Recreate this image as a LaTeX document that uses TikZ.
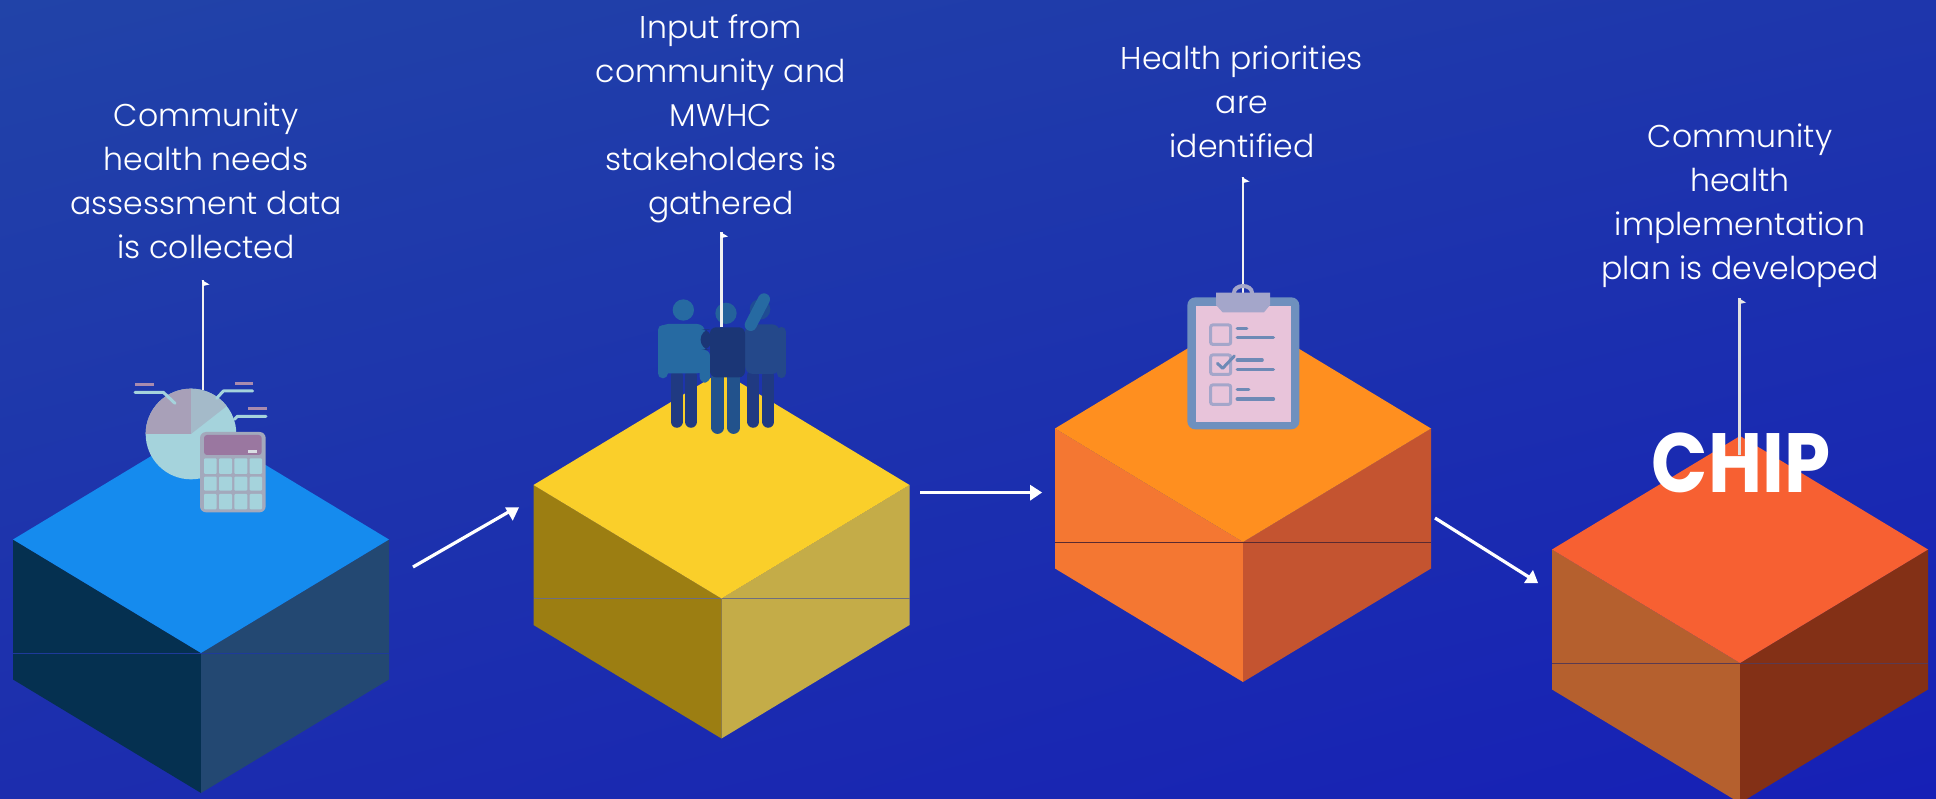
\documentclass[tikz,border=0pt]{standalone}
\usepackage{fontspec}
\setmainfont{Poppins}[UprightFont=*-Light]
\newfontfamily\chipfont{Poppins}[UprightFont=*-Bold,FakeStretch=0.88]
\usetikzlibrary{calc,shadings}
\definecolor{bgTL}{HTML}{2143A8}
\definecolor{bgTR}{HTML}{1E36AC}
\definecolor{bgBL}{HTML}{1C2DAE}
\definecolor{bgBR}{HTML}{1620B6}
\definecolor{iTeal}{HTML}{A5D3DC}
\definecolor{iMauve}{HTML}{A8A0B8}
\definecolor{iGrey}{HTML}{A3A9BC}
\definecolor{iHead}{HTML}{9A77A0}
\tikzset{
  lab/.style={text=white,align=center,inner sep=0pt,font=\fontsize{31.5}{44}\selectfont},
  flow/.style={draw=white,line width=3.2pt},
  tip/.style={fill=white},
  up/.style={draw=white!94!black,line width=2.4pt},
  zoomA/.style={x=0.33333pt,y=-0.33333pt,shift={(#1)}},
}
% #1 name, #2 centre x, #3 apex y, #4 top, #5 left, #6 right, #7 seam
\newcommand{\isobox}[7]{%
  \coordinate (#1apex) at (#2,#3);
  \coordinate (#1l) at (#2-188,#3+113.5);
  \coordinate (#1r) at (#2+188,#3+113.5);
  \coordinate (#1f) at (#2,#3+227);
  \coordinate (#1bl) at (#2-188,#3+253.5);
  \coordinate (#1br) at (#2+188,#3+253.5);
  \coordinate (#1b) at (#2,#3+367);
  \fill[#5] (#1l)--(#1f)--(#1b)--(#1bl)--cycle;
  \fill[#6] (#1r)--(#1f)--(#1b)--(#1br)--cycle;
  \draw[#7,line width=0.6pt] (#1f-|#1l)--(#1f-|#1r);
  \fill[#4] (#1apex)--(#1r)--(#1f)--(#1l)--cycle;
}
\definecolor{bxa}{HTML}{158BEE}\definecolor{bxb}{HTML}{053050}\definecolor{bxc}{HTML}{234872}\definecolor{bxd}{HTML}{1E3A9A}
\definecolor{bya}{HTML}{FACF2A}\definecolor{byb}{HTML}{9C7E12}\definecolor{byc}{HTML}{C4AC48}\definecolor{byd}{HTML}{6E6E80}
\definecolor{bza}{HTML}{FF8F1F}\definecolor{bzb}{HTML}{F47732}\definecolor{bzc}{HTML}{C45430}\definecolor{bzd}{HTML}{5A2A30}
\definecolor{bwa}{HTML}{F76032}\definecolor{bwb}{HTML}{B5602E}\definecolor{bwc}{HTML}{833016}\definecolor{bwd}{HTML}{5A3A50}
\begin{document}
\begin{tikzpicture}[x=1pt,y=-1pt]
\useasboundingbox (0,0) rectangle (1936,799);
\shade[upper left=bgTL,upper right=bgTR,lower left=bgBL,lower right=bgBR] (0,0) rectangle (1936,799);
\begin{scope}
\clip (0,0) rectangle (1936,799);
\isobox{a}{201}{426}{bxa}{bxb}{bxc}{bxd}
\isobox{b}{721.5}{371.5}{bya}{byb}{byc}{byd}
\isobox{c}{1243}{315}{bza}{bzb}{bzc}{bzd}
\isobox{d}{1740}{436}{bwa}{bwb}{bwc}{bwd}
\end{scope}

% labels
\node[lab] (ta) at (206,181) {Community\\health needs\\assessment data\\is collected};
\node[lab] (tb) at (721,118.7) {Input from\\community and\\MWHC\\stakeholders is\\gathered};
\node[lab] (tc) at (1242,102) {Health priorities\\are\\identified};
\node[lab] (td) at (1740,205.7) {Community\\health\\implementation\\plan is developed};

% vertical pointers
\coordinate (pa1) at (203,390); \coordinate (pa2) at (203,280);
\coordinate (pc1) at (1243,295); \coordinate (pc2) at (1243,177);
\draw[up] (pa1)--(pa2);
\fill[white] (203-1.2,280)--(209.5,284.5)--(203,286)--cycle;
\draw[up] (pc1)--(pc2);
\fill[white] (1243-1.2,177)--(1249.5,181.5)--(1243,183)--cycle;

% pie + calculator
\begin{scope}[zoomA={100pt,-340pt}]
  \fill[iTeal] (273,282) circle[radius=136];
  \fill[iMauve] (273,282)--(137,282) arc[start angle=180,end angle=270,radius=136]--cycle;
  \fill[iGrey!60!iTeal] (273,282)--(273,146) arc[start angle=270,end angle=322,radius=136]--cycle;
  \draw[iTeal,line width=3pt,line cap=round,line join=round] (105,157)--(190,157)--(225,190);
  \draw[iTeal,line width=3pt,line cap=round,line join=round] (458,153)--(370,153)--(350,175);
  \draw[iTeal,line width=3pt,line cap=round,line join=round] (498,229)--(412,229)--(403,238);
  \foreach \xa/\xb/\yy in {105/162/135,405/460/130,445/500/207}
    \draw[iHead!85!white,line width=3pt] (\xa,\yy)--(\xb,\yy);
  \fill[iGrey,rounded corners=6pt] (300,276) rectangle (497,517);
  \fill[iHead,rounded corners=3pt] (312,285) rectangle (485,345);
  \fill[iGrey!40!white] (445,330) rectangle (472,338);
  \foreach \xa/\xb in {312/350,357/396,403/442,449/486}
    \foreach \ya/\yb in {355/402,410/452,462/508}
      \fill[iTeal,rounded corners=1pt] (\xa,\ya) rectangle (\xb,\yb);
\end{scope}

% people
\begin{scope}[zoomA={630pt,-270pt},line cap=round]
  \definecolor{pa}{HTML}{266AA2}\definecolor{pb}{HTML}{203A82}
  \definecolor{pc}{HTML}{1B3676}\definecolor{pd}{HTML}{22528C}
  \definecolor{pe}{HTML}{24488A}\definecolor{pf}{HTML}{1F4C94}
  % right person
  \fill[pf] (390,118) circle[radius=31];
  \draw[pb,line width=12.2pt] (370,318)--(370,455);
  \draw[pb,line width=12.2pt] (415,318)--(415,455);
  \fill[pe,rounded corners=8pt] (345,163) rectangle (450,312);
  \draw[pe,line width=9.5pt] (454,185)--(454,310);
  % left person
  \fill[pa] (160,120) circle[radius=32];
  \draw[pb,line width=12.2pt] (140,318)--(140,455);
  \draw[pb,line width=12.2pt] (183,318)--(183,455);
  \fill[pa,rounded corners=8pt] (90,162) rectangle (225,310);
  \draw[pa,line width=10pt] (98,180)--(98,310);
  \fill[pa,rounded corners=6pt] (209,240) rectangle (240,338);
  % centre person
  \draw[pd,line width=12.5pt] (263,325)--(263,473);
  \draw[pd,line width=12.5pt] (311,325)--(311,473);
  \fill[pc,rounded corners=10pt] (212,178) rectangle (245,240);
  \fill[pc,rounded corners=6pt] (240,172) rectangle (345,322);
  \draw[pa,line width=12pt] (362,165)--(402,88);
  \fill[pa!85!pc] (288,130) circle[radius=32];
\end{scope}
\coordinate (pb1) at (721.5,327); \coordinate (pb2) at (721.5,232);
\draw[up] (pb1)--(pb2);
\fill[white] (721.5-1.2,232)--(728,236.5)--(721.5,238)--cycle;

% clipboard
\begin{scope}[zoomA={1170pt,-270pt},line cap=round]
  \definecolor{ca}{HTML}{6F90BE}\definecolor{cb}{HTML}{E8C4DA}
  \definecolor{cc}{HTML}{A4A6CA}\definecolor{cd}{HTML}{6E8AB6}
  \fill[ca,rounded corners=8pt] (52,82) rectangle (388,478);
  \fill[cb] (77,107) rectangle (362,455);
  \draw[cc,line width=4pt] (192,68) arc[start angle=180,end angle=360,x radius=27,y radius=20];
  \fill[cc] (138,68)--(300,68)--(300,105)--(282,127)--(158,127)--(138,105)--cycle;
  \foreach \yy in {165,255,345}
    \draw[cc,line width=3pt,rounded corners=2pt] (122,\yy) rectangle (182,\yy+58);
  \draw[cd,line width=3pt,line join=round] (142,280)--(158,295)--(193,258);
  \foreach \xa/\xb/\yy in {202/230/175,202/310/203,202/276/270,202/310/298,202/236/358,202/310/387}
    \draw[cd,line width=3.6pt] (\xa,\yy)--(\xb,\yy);
\end{scope}

% CHIP
\node[text=white,inner sep=0pt,font=\chipfont\fontsize{84}{84}\selectfont] (chip) at (1741,463) {CHIP};
\coordinate (pd1) at (1739.5,455); \coordinate (pd2) at (1739.5,298);
\draw[up,draw=white!88!black] (pd1)--(pd2);
\fill[white!90!black] (1739.5-1.2,298)--(1746,302.5)--(1739.5,304)--cycle;

% flow arrows
\coordinate (fa1) at (413,567); \coordinate (fa2) at (512,510);
\draw[flow] (fa1)--(fa2);
\fill[tip] (505,507.3)--(519,507.3)--(512.7,520.7)--cycle;
\coordinate (fb1) at (920,492.5); \coordinate (fb2) at (1032,492.5);
\draw[flow] (fb1)--(fb2);
\fill[tip] (1030,484.7)--(1042,492.5)--(1030,500.7)--cycle;
\coordinate (fc1) at (1435,518); \coordinate (fc2) at (1532,579);
\draw[flow] (fc1)--(fc2);
\fill[tip] (1524,583)--(1538,583)--(1533,570)--cycle;
\end{tikzpicture}
\end{document}
